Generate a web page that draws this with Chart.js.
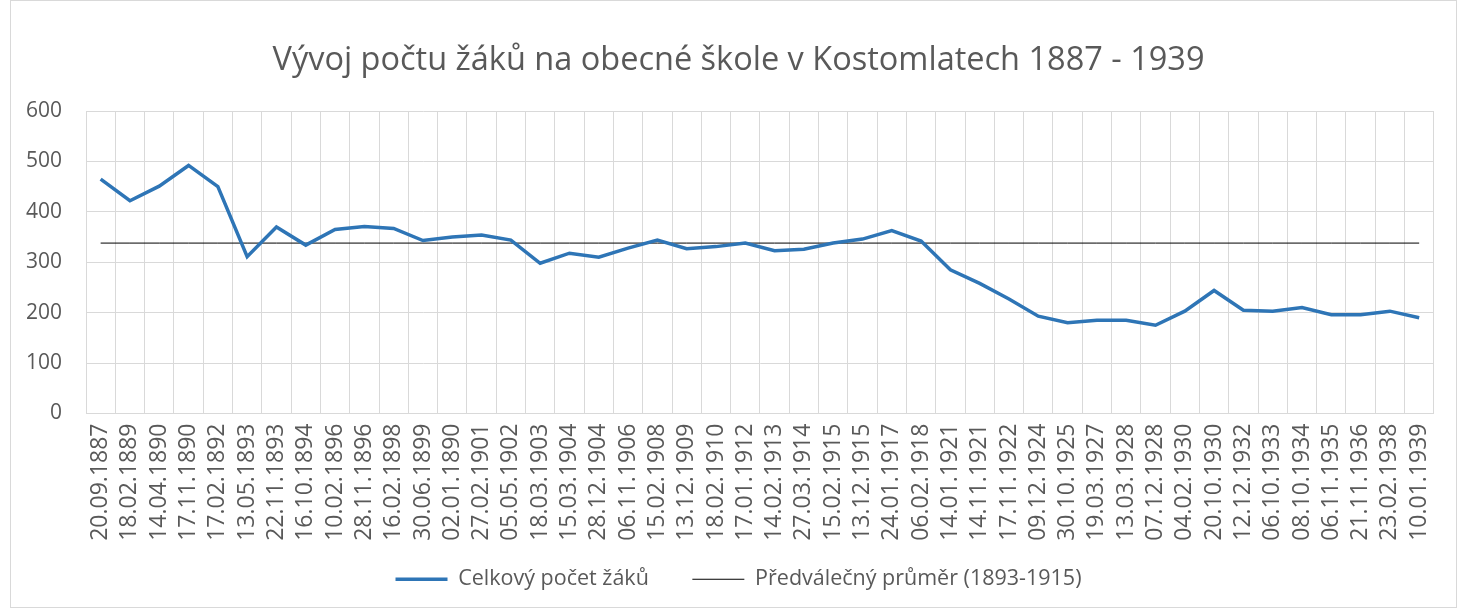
<!DOCTYPE html>
<html>
<head>
<meta charset="utf-8">
<script src="https://cdn.jsdelivr.net/npm/chart.js@4"></script>
<style>
  html, body { margin: 0; padding: 0; background: #fff; }
  #wrap { width: 1457px; height: 608px; }
</style>
</head>
<body>
<div id="wrap"><canvas id="chart" width="1457" height="608"></canvas></div>
<script>
const dates = [
    "20.09.1887", "18.02.1889", "14.04.1890", "17.11.1890", "17.02.1892", "13.05.1893",
    "22.11.1893", "16.10.1894", "10.02.1896", "28.11.1896", "16.02.1898", "30.06.1899",
    "02.01.1890", "27.02.1901", "05.05.1902", "18.03.1903", "15.03.1904", "28.12.1904",
    "06.11.1906", "15.02.1908", "13.12.1909", "18.02.1910", "17.01.1912", "14.02.1913",
    "27.03.1914", "15.02.1915", "13.12.1915", "24.01.1917", "06.02.1918", "14.01.1921",
    "14.11.1921", "17.11.1922", "09.12.1924", "30.10.1925", "19.03.1927", "13.03.1928",
    "07.12.1928", "04.02.1930", "20.10.1930", "12.12.1932", "06.10.1933", "08.10.1934",
    "06.11.1935", "21.11.1936", "23.02.1938", "10.01.1939"
];

// počet žáků
const pupils = [
    465, 422, 451, 492, 450, 311, 370, 334, 365, 371, 367, 343,
    350, 354, 344, 298, 318, 310, 328, 344, 327, 331, 338, 323,
    326, 338, 346, 363, 342, 285, 258, 227, 193, 180, 185, 185,
    175, 203, 244, 205, 203, 210, 196, 196, 203, 190
];

const prewarAvg = 338;
const avgLine = dates.map(() => prewarAvg);

const yTicks = [0, 100, 200, 300, 400, 500, 600];

const textColor = "#595959";
const gridColor = "#d9d9d9";
const font = "'Open Sans', sans-serif";

// rámeček kolem celého grafu
const framePlugin = {
    id: "frame",
    beforeDraw(chart) {
        const ctx = chart.ctx;
        ctx.save();
        ctx.strokeStyle = gridColor;
        ctx.lineWidth = 1;
        ctx.strokeRect(10.5, 0.5, chart.width - 11, chart.height - 1);
        ctx.restore();
    }
};

new Chart(document.getElementById("chart"), {
    type: "line",
    data: {
        labels: dates,
        datasets: [{
            label: "Celkový počet žáků",
            data: pupils,
            borderColor: "#2e75b6",
            backgroundColor: "#2e75b6",
            borderWidth: 3.5,
            pointRadius: 0,
            pointStyle: "line",
            tension: 0
        }, {
            label: "Předválečný průměr (1893-1915)",
            data: avgLine,
            borderColor: "#000000",
            backgroundColor: "#000000",
            borderWidth: 1,
            pointRadius: 0,
            pointStyle: "line",
            tension: 0
        }]
    },
    plugins: [framePlugin],
    options: {
        responsive: false,
        animation: false,
        layout: { padding: { left: 20, right: 0, top: 0, bottom: 8 } },
        plugins: {
            title: {
                display: true,
                text: "Vývoj počtu žáků na obecné škole v Kostomlatech 1887 - 1939",
                color: textColor,
                font: { family: font, size: 32.5, weight: "normal" },
                padding: { top: 41, bottom: 31 }
            },
            legend: {
                position: "bottom",
                labels: {
                    usePointStyle: true,
                    pointStyleWidth: 52,
                    color: textColor,
                    font: { family: font, size: 21.5 },
                    padding: 10,
                    generateLabels(chart) {
                        const items = Chart.defaults.plugins.legend.labels.generateLabels(chart);
                        items[0].text = items[0].text + "      ";
                        return items;
                    }
                }
            },
            tooltip: { enabled: false }
        },
        scales: {
            x: {
                offset: true,
                grid: { offset: true, color: gridColor, lineWidth: 1, drawTicks: false },
                border: { color: gridColor },
                ticks: {
                    autoSkip: false,
                    minRotation: 90,
                    maxRotation: 90,
                    padding: 10,
                    color: textColor,
                    font: { family: font, size: 23 }
                },
                afterFit(scale) { scale.height = 145; }
            },
            y: {
                min: 0,
                max: 600,
                afterBuildTicks(scale) { scale.ticks = yTicks.map(v => ({ value: v })); },
                grid: { color: gridColor, lineWidth: 1, drawTicks: false },
                border: { color: gridColor },
                ticks: {
                    padding: 24,
                    color: textColor,
                    font: { family: font, size: 21 }
                },
                afterFit(scale) { scale.width = 66; }
            },
            // prázdná osa vpravo jen kvůli okraji
            yRight: {
                position: "right",
                display: true,
                grid: { display: false },
                border: { display: false },
                ticks: { display: false },
                afterFit(scale) { scale.width = 20; }
            }
        }
    }
});
</script>
</body>
</html>
